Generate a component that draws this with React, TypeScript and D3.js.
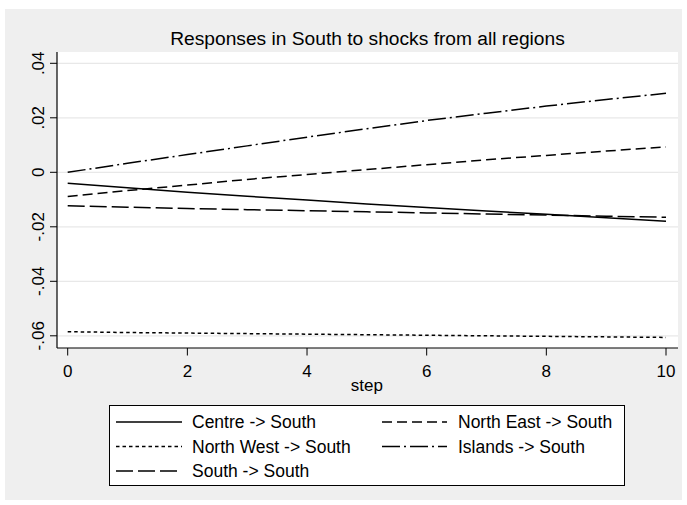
import React from "react";
import * as d3 from "d3";

// Impulse responses of South, steps 0..10
const steps = [0, 1, 2, 3, 4, 5, 6, 7, 8, 9, 10];
const centreSouth = [-0.004, -0.0057, -0.0073, -0.0088, -0.0102, -0.0116, -0.0129, -0.0142, -0.0154, -0.0167, -0.018];
const northEastSouth = [-0.0089, -0.0067, -0.0047, -0.0026, -0.0008, 0.001, 0.0028, 0.0046, 0.0062, 0.0078, 0.0093];
const northWestSouth = [-0.0585, -0.0588, -0.059, -0.0592, -0.0594, -0.0596, -0.0598, -0.06, -0.0602, -0.0604, -0.0606];
const islandsSouth = [0, 0.0033, 0.0065, 0.0097, 0.0129, 0.016, 0.019, 0.0217, 0.0243, 0.0267, 0.029];
const southSouth = [-0.0123, -0.0128, -0.0133, -0.0137, -0.0141, -0.0145, -0.0149, -0.0153, -0.0157, -0.0161, -0.0165];

const yTicks = [0.04, 0.02, 0, -0.02, -0.04, -0.06];
const yTickLabels = [".04", ".02", "0", "-.02", "-.04", "-.06"];
const xTicks = [0, 2, 4, 6, 8, 10];

const titleText = "Responses in South to shocks from all regions";
const xAxisTitle = "step";

type Series = { name: string; values: number[]; dash: string };

const series: Series[] = [
  { name: "Centre -> South", values: centreSouth, dash: "none" },
  { name: "North East -> South", values: northEastSouth, dash: "10,5" },
  { name: "North West -> South", values: northWestSouth, dash: "3.5,3" },
  { name: "Islands -> South", values: islandsSouth, dash: "18,4,2,4" },
  { name: "South -> South", values: southSouth, dash: "17,5" },
];

const W = 687;
const H = 505;
const FONT = "'Liberation Sans', Arial, Helvetica, sans-serif";

// plot region
const plotLeft = 57;
const plotRight = 678;
const plotTop = 52;
const plotBottom = 348;

export default function App() {
  const x = d3.scaleLinear().domain([0, 10]).range([67.7, 666]);
  const y = d3.scaleLinear().domain([0, 0.04]).range([172.3, 63.3]);

  const line = d3
    .line<number>()
    .x((_, i) => x(steps[i]))
    .y((v) => y(v));

  // legend layout: two columns, filled row by row
  const legLeft = 109.5;
  const legRight = 624.5;
  const legTop = 405.5;
  const legBottom = 485.5;
  const rowY = [422, 446.5, 471];
  const cols = [
    { lineX0: 116, lineX1: 182, textX: 192 },
    { lineX0: 382, lineX1: 447, textX: 458 },
  ];

  return (
    <svg
      width={W}
      height={H}
      style={{ position: "absolute", left: 0, top: 0, background: "#ffffff" }}
      fontFamily={FONT}
    >
      <rect x={5} y={9} width={677} height={491} fill="#efefef" />
      <rect x={plotLeft} y={plotTop} width={plotRight - plotLeft} height={plotBottom - plotTop} fill="#ffffff" />

      {/* horizontal gridlines */}
      {yTicks.map((t) => (
        <line key={"g" + t} x1={plotLeft} x2={plotRight} y1={y(t)} y2={y(t)} stroke="#e8e8e8" strokeWidth={1.2} />
      ))}

      {/* series */}
      {series.map((s) => (
        <path
          key={s.name}
          d={line(s.values) || ""}
          fill="none"
          stroke="#000"
          strokeWidth={1.5}
          strokeDasharray={s.dash}
        />
      ))}

      {/* axes */}
      <line x1={plotLeft} x2={plotLeft} y1={plotTop} y2={plotBottom} stroke="#000" strokeWidth={1.2} />
      <line x1={plotLeft} x2={plotRight} y1={plotBottom} y2={plotBottom} stroke="#000" strokeWidth={1.2} />

      {yTicks.map((t, i) => (
        <g key={"yt" + t}>
          <line x1={50} x2={plotLeft} y1={y(t)} y2={y(t)} stroke="#000" strokeWidth={1} />
          <text
            transform={`translate(43.5,${y(t)}) rotate(-90)`}
            textAnchor="middle"
            fontSize={17}
            fill="#000"
          >
            {yTickLabels[i]}
          </text>
        </g>
      ))}

      {xTicks.map((t) => (
        <g key={"xt" + t}>
          <line x1={x(t)} x2={x(t)} y1={plotBottom} y2={355.5} stroke="#000" strokeWidth={1} />
          <text x={x(t)} y={376.5} textAnchor="middle" fontSize={17} fill="#000">
            {t}
          </text>
        </g>
      ))}

      <text x={(x(0) + x(10)) / 2} y={391} textAnchor="middle" fontSize={17} fill="#000">
        {xAxisTitle}
      </text>

      <text x={367.5} y={45} textAnchor="middle" fontSize={19.2} fill="#000">
        {titleText}
      </text>

      {/* legend */}
      <rect
        x={legLeft}
        y={legTop}
        width={legRight - legLeft}
        height={legBottom - legTop}
        fill="#ffffff"
        stroke="#000"
        strokeWidth={1}
      />
      {series.map((s, i) => {
        const c = cols[i % 2];
        const ry = rowY[Math.floor(i / 2)];
        return (
          <g key={"leg" + s.name}>
            <line
              x1={c.lineX0}
              x2={c.lineX1}
              y1={ry}
              y2={ry}
              stroke="#000"
              strokeWidth={1.5}
              strokeDasharray={s.dash}
            />
            <text x={c.textX} y={ry + 6.3} fontSize={17.5} fill="#000">
              {s.name}
            </text>
          </g>
        );
      })}
    </svg>
  );
}
